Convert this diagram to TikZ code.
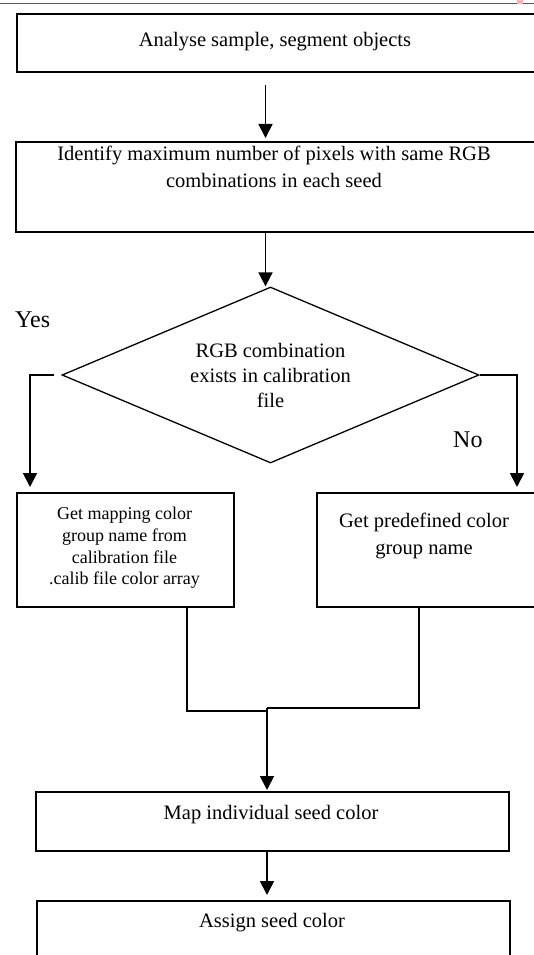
\documentclass[tikz,border=0pt]{standalone}
\usepackage{fontspec}
\setmainfont{Liberation Serif}
\usetikzlibrary{arrows.meta,shapes.geometric,calc}
\tikzset{
 box/.style={draw, line width=1.8pt, inner sep=0pt, anchor=north west},
 txt/.style={align=center, font=\fontsize{20.5}{27}\selectfont, inner sep=0pt},
 smalltxt/.style={align=center, font=\fontsize{18}{21.7}\selectfont, inner sep=0pt},
 lbl/.style={font=\fontsize{24}{28}\selectfont, inner sep=0pt, anchor=base west},
 arr/.style={line width=1.8pt, -{Triangle[width=14pt,length=14pt]}},
 link/.style={line width=1.4pt},
 dec/.style={draw, diamond, shape aspect=2.37, line width=1.3pt, minimum width=417pt, minimum height=176pt, inner sep=0pt, align=center, font=\fontsize{20.5}{25}\selectfont}
}
\begin{document}
\begin{tikzpicture}[x=1pt,y=-1pt]
\useasboundingbox (0,0) rectangle (534,955);
\clip (0,0) rectangle (534,955);
\draw[gray!70!black, line width=1pt] (0,3.5) -- (534,3.5);
\fill[red!30] (517,0) rectangle (523,4);
% axes
\coordinate (ax) at (265.5,0);
\coordinate (xL) at (30,0);
\coordinate (xR) at (517,0);
\coordinate (c3) at (187,0);
\coordinate (c4) at (419,0);
\coordinate (j) at (267,708);
\coordinate (jl) at (267,711);
% boxes
\node[box, minimum width=521pt, minimum height=58pt] (b1) at (16,13) {};
\node[txt] (t1) at (275,42) {Analyse sample, segment objects};
\node[box, minimum width=522pt, minimum height=90pt] (b2) at (15,141) {};
\node[txt] (t2) at (274,166.5) {Identify maximum number of pixels with same RGB\\combinations in each seed};
\node[dec] (d) at (270.5,375) {RGB combination\\exists in calibration\\file};
\node[box, minimum width=217pt, minimum height=114pt] (b3) at (16,492) {};
\node[smalltxt] (t3) at (124.5,548) {Get mapping color\\group name from\\calibration file\\.calib file color array};
\node[box, minimum width=221pt, minimum height=114pt] (b4) at (316,492) {};
\node[txt] (t4) at (424,536) {Get predefined color\\group name};
\node[box, minimum width=473pt, minimum height=59pt] (b5) at (35,791) {};
\node[txt] (t5) at (271,815) {Map individual seed color};
\node[box, minimum width=473pt, minimum height=80pt] (b6) at (36,900) {};
\node[txt] (t6) at (272,923) {Assign seed color};
\node[lbl] (yes) at (15,327) {Yes};
\node[lbl] (no) at (453,447) {No};
% connectors
\draw[arr] ($(b1.south -| ax)+(0,12)$) -- ($(b2.north -| ax)+(0,-3)$);
\draw[arr] (b2.south -| ax) -- (d.north -| ax);
\draw[arr] ($(d.west)+(-7,0)$) -| ($(b3.north -| xL)+(0,-5)$);
\draw[arr] (d.east) -| ($(b4.north -| xR)+(0,-5)$);
\draw[link] (b3.south -| c3) |- (jl);
\draw[link] (b4.south -| c4) |- (j);
\draw[arr] (j) -- ($(b5.north -| j)+(0,-1)$);
\draw[arr] (b5.south -| j) -- ($(b6.north -| j)+(0,-5)$);
\end{tikzpicture}
\end{document}
